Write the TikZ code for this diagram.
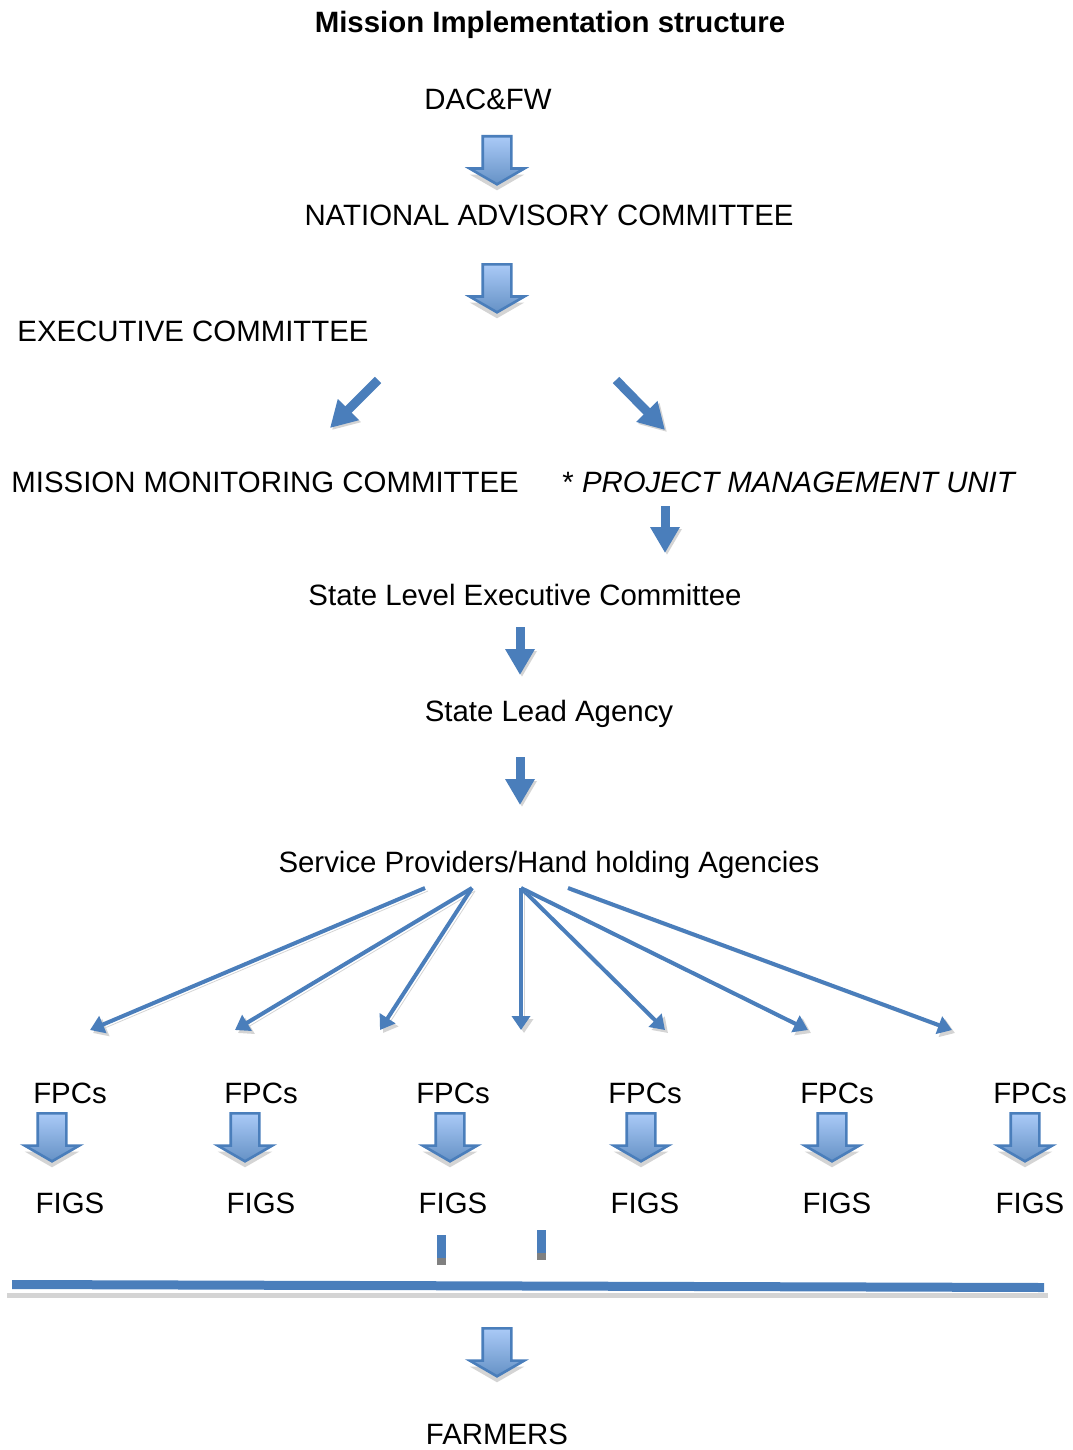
\documentclass[tikz,border=0pt]{standalone}
\usepackage{fontspec}
\setmainfont{Liberation Sans}
\usetikzlibrary{positioning,arrows.meta,shapes.arrows,shadows}

\definecolor{mainblue}{RGB}{74,126,187}
\definecolor{paleblue}{RGB}{170,202,247}
\definecolor{shadowgray}{RGB}{212,212,212}
\definecolor{capgray}{RGB}{128,128,128}

\begin{document}
\begin{tikzpicture}[
  x=0.5pt, y=-0.5pt,
  font=\fontsize{14.7}{17}\selectfont,
  txt/.style={
     anchor=base,
     inner sep=0pt
  },
  blockarrow/.style={
     single arrow,
     rotate=-90,
     anchor=tail,
     draw=mainblue,
     line width=1.3pt,
     top color=paleblue,
     bottom color=mainblue!85,
     minimum height=24pt,
     inner xsep=0pt,
     inner ysep=6.5pt,
     single arrow head extend=6.5pt,
     single arrow tip angle=120,
     drop shadow={shadow xshift=0pt, shadow yshift=-3pt, opacity=1, fill=shadowgray}
  },
  solidarrow/.style={
     draw=mainblue,
     line width=4.5pt,
     -{Triangle[width=14pt,length=13pt]},
     preaction={draw=shadowgray, transform canvas={shift={(1pt,-1pt)}}}
  },
  spoke/.style={
     draw=mainblue,
     line width=2pt,
     -{Triangle[width=9pt,length=7pt]},
     preaction={draw=shadowgray, transform canvas={shift={(1.5pt,-1.5pt)}}}
  }
]

\useasboundingbox (0,0) rectangle (1072,1450);

\node[txt, font=\fontsize{14.7}{17}\selectfont\bfseries] (title) at (550,33) {Mission Implementation structure};

\node[txt] (dac)  at (488,110)  {DAC\&FW};
\node[txt] (nac)  at (549,225)  {NATIONAL ADVISORY COMMITTEE};
\node[txt, anchor=base west] (exec) at (17,341) {EXECUTIVE COMMITTEE};
\node[txt, anchor=base west] (mmc)  at (11,492) {MISSION MONITORING COMMITTEE};
\node[txt, anchor=base west] (pmu)  at (562,492) {*\ \textit{PROJECT MANAGEMENT UNIT}};
\node[txt] (slec) at (525,605)  {State Level Executive Committee};
\node[txt] (sla)  at (549,721)  {State Lead Agency};
\node[txt] (sp)   at (549,872)  {Service Providers/Hand holding Agencies};

\node[txt] (fpc1) at (70,1103)   {FPCs};
\node[txt] (fpc2) at (261,1103)  {FPCs};
\node[txt] (fpc3) at (453,1103)  {FPCs};
\node[txt] (fpc4) at (645,1103)  {FPCs};
\node[txt] (fpc5) at (837,1103)  {FPCs};
\node[txt] (fpc6) at (1030,1103) {FPCs};

\node[txt, below=44.5pt of fpc1] (figs1) {FIGS};
\node[txt, below=44.5pt of fpc2] (figs2) {FIGS};
\node[txt, below=44.5pt of fpc3] (figs3) {FIGS};
\node[txt, below=44.5pt of fpc4] (figs4) {FIGS};
\node[txt, below=44.5pt of fpc5] (figs5) {FIGS};
\node[txt, below=44.5pt of fpc6] (figs6) {FIGS};

\node[txt] (farmers) at (497,1444) {FARMERS};

% big hollow arrows
\node[blockarrow] (ba1) at (497,135)  {};
\node[blockarrow] (ba2) at (497,263)  {};
\node[blockarrow] (ba3) at (497,1327) {};

\node[blockarrow] (bf1) at (52,1112)   {};
\node[blockarrow] (bf2) at (245,1112)  {};
\node[blockarrow] (bf3) at (450,1112)  {};
\node[blockarrow] (bf4) at (641,1112)  {};
\node[blockarrow] (bf5) at (832,1112)  {};
\node[blockarrow] (bf6) at (1025,1112) {};

% ends of the solid arrows
\coordinate (execl) at (378,380);
\coordinate (mmctip) at (330,428);
\coordinate (execr) at (616,380);
\coordinate (pmutip) at (665,430);
\coordinate (pmutop) at (665,506);
\coordinate (slectip) at (665,553);
\coordinate (sletop) at (520,627);
\coordinate (slatip) at (520,675);
\coordinate (slatop) at (520,757);
\coordinate (sptip)  at (520,805);

\draw[solidarrow] (execl) -- (mmctip);
\draw[solidarrow] (execr) -- (pmutip);
\draw[solidarrow] (pmutop) -- (slectip);
\draw[solidarrow] (sletop) -- (slatip);
\draw[solidarrow] (slatop) -- (sptip);

% spokes from the service providers
\coordinate (s1) at (425,888);
\coordinate (s2) at (472,888);
\coordinate (s3) at (521,888);
\coordinate (s4) at (568,888);

\coordinate (e1) at (90,1030);
\coordinate (e2) at (235,1030);
\coordinate (e3) at (380,1030);
\coordinate (e4) at (521,1030);
\coordinate (e5) at (665,1030);
\coordinate (e6) at (808,1030);
\coordinate (e7) at (952,1030);

\draw[spoke] (s1) -- (e1);
\draw[spoke] (s2) -- (e2);
\draw[spoke] (s2) -- (e3);
\draw[spoke] (s3) -- (e4);
\draw[spoke] (s3) -- (e5);
\draw[spoke] (s3) -- (e6);
\draw[spoke] (s4) -- (e7);

% bar collecting the FIGS
\fill[mainblue] (437,1235) rectangle (446,1258);
\fill[capgray]  (437,1258) rectangle (446,1265);
\fill[mainblue] (537,1230) rectangle (546,1253);
\fill[capgray]  (537,1253) rectangle (546,1260);

\fill[shadowgray] (7,1293) rectangle (1048,1298);
\fill[mainblue] (12,1280) -- (1044,1283) -- (1044,1292) -- (12,1289) -- cycle;

\end{tikzpicture}
\end{document}
